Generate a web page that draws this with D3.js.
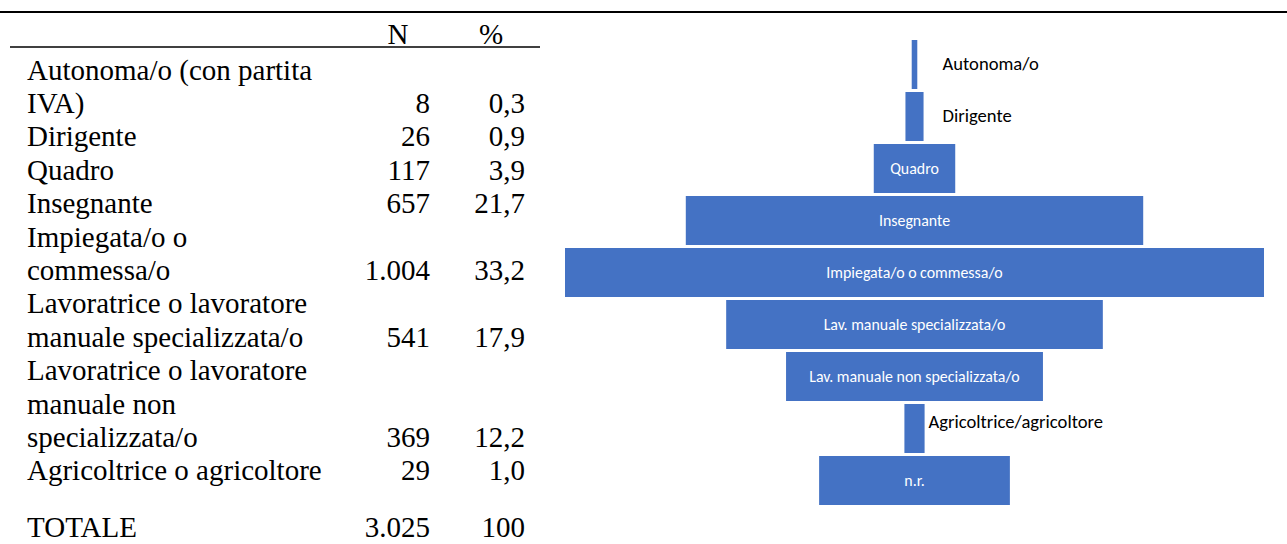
<!DOCTYPE html>
<html>
<head>
<meta charset="utf-8">
<script src="https://cdn.jsdelivr.net/npm/d3@7"></script>
<style>
  html, body { margin: 0; padding: 0; background: #fff; }
  svg { display: block; }
</style>
</head>
<body>
<svg id="chart" width="1287" height="544"></svg>
<script>
// Table rows: wrapped label lines, counts and percentages
const rowLines = [
  ["Autonoma/o (con partita", "IVA)"],
  ["Dirigente"],
  ["Quadro"],
  ["Insegnante"],
  ["Impiegata/o o", "commessa/o"],
  ["Lavoratrice o lavoratore", "manuale specializzata/o"],
  ["Lavoratrice o lavoratore", "manuale non", "specializzata/o"],
  ["Agricoltrice o agricoltore"]
];
const rowCounts = [8, 26, 117, 657, 1004, 541, 369, 29];
const rowPercents = [0.3, 0.9, 3.9, 21.7, 33.2, 17.9, 12.2, 1.0];
const totalLabel = "TOTALE";
const totalCount = 3025;
const totalPercent = 100;
const headerLabels = ["N", "%"];

// Funnel segments
const funnelLabels = [
  "Autonoma/o", "Dirigente", "Quadro", "Insegnante",
  "Impiegata/o o commessa/o", "Lav. manuale specializzata/o",
  "Lav. manuale non specializzata/o", "Agricoltrice/agricoltore", "n.r."
];
const funnelValues = [8, 26, 117, 657, 1004, 541, 369, 29, 274];

const it = d3.formatLocale({ decimal: ",", thousands: ".", grouping: [3], currency: ["€", ""] });
const fmtN = it.format(",d");
const fmtP = it.format(".1f");
const fmtTot = it.format("d");

const svg = d3.select("#chart");
const serif = "'Liberation Serif', 'Times New Roman', serif";

// Rules
svg.append("line").attr("x1", 0).attr("x2", 1287).attr("y1", 12).attr("y2", 12)
  .attr("stroke", "#000").attr("stroke-width", 2);
svg.append("line").attr("x1", 10).attr("x2", 540).attr("y1", 47).attr("y2", 47)
  .attr("stroke", "#000").attr("stroke-width", 1.5);

// ---- Table ----
const table = svg.append("g").attr("font-family", serif).attr("font-size", 29).attr("fill", "#000");
const colN = 430, colP = 525, labelX = 27;
table.append("text").attr("x", 398).attr("y", 44).attr("text-anchor", "middle").text(headerLabels[0]);
table.append("text").attr("x", 491).attr("y", 44).attr("text-anchor", "middle").text(headerLabels[1]);

const lineH = 33.4;
let lineIdx = 0;
const firstBase = 79.5;
rowLines.forEach((lines, i) => {
  lines.forEach((ln, j) => {
    table.append("text").attr("x", labelX).attr("y", firstBase + (lineIdx + j) * lineH).text(ln);
  });
  const yLast = firstBase + (lineIdx + lines.length - 1) * lineH;
  table.append("text").attr("x", colN).attr("y", yLast).attr("text-anchor", "end").text(fmtN(rowCounts[i]));
  table.append("text").attr("x", colP).attr("y", yLast).attr("text-anchor", "end").text(fmtP(rowPercents[i]));
  lineIdx += lines.length;
});
// total row sits after a blank gap, at the bottom edge
const yTot = 537;
table.append("text").attr("x", labelX).attr("y", yTot).text(totalLabel);
table.append("text").attr("x", colN).attr("y", yTot).attr("text-anchor", "end").text(fmtN(totalCount));
table.append("text").attr("x", colP).attr("y", yTot).attr("text-anchor", "end").text(fmtTot(totalPercent));

// ---- Funnel ----
const cx = 914.5;
const w = d3.scaleLinear().domain([0, d3.max(funnelValues)]).range([0, 699]);
const y = d3.scaleBand().domain(funnelLabels).range([40, 505]).paddingInner(3 / 52);
const sans = "Carlito, Lato, 'Open Sans', sans-serif";

const funnel = svg.append("g");
funnel.selectAll("rect").data(funnelLabels).join("rect")
  .attr("x", (d, i) => cx - w(funnelValues[i]) / 2)
  .attr("y", d => y(d))
  .attr("width", (d, i) => w(funnelValues[i]))
  .attr("height", y.bandwidth())
  .attr("fill", "#4472C4");

const plotRight = 1103;
funnelLabels.forEach((d, i) => {
  const bw = w(funnelValues[i]);
  const inside = bw > 60;
  const t = funnel.append("text")
    .attr("font-family", sans)
    .text(d);
  if (inside) {
    t.attr("x", cx).attr("y", y(d) + y.bandwidth() / 2)
      .attr("text-anchor", "middle").attr("dominant-baseline", "central")
      .attr("font-size", 15.9).attr("fill", "#fff");
  } else {
    t.attr("font-size", 18.6).attr("fill", "#000")
      .attr("dominant-baseline", "central");
    const tw = t.node().getComputedTextLength();
    t.attr("x", Math.min(cx + 28, plotRight - tw))
      .attr("y", y(d) + y.bandwidth() / 2 - (tw > 120 ? 7 : 1));
  }
});
</script>
</body>
</html>
